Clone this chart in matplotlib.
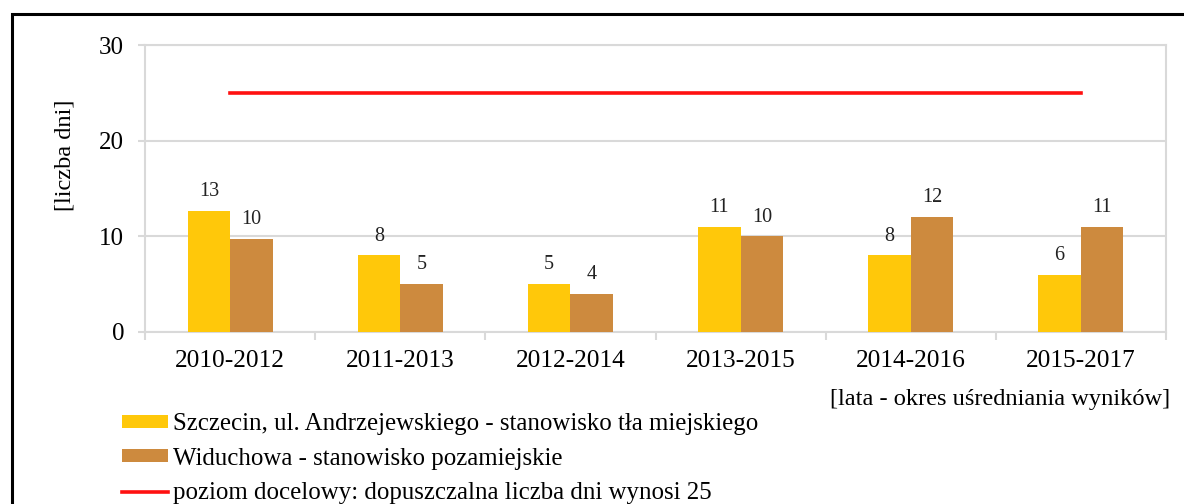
import numpy as np
import matplotlib
matplotlib.use("Agg")
import matplotlib.pyplot as plt
from matplotlib.patches import Patch, Rectangle
from matplotlib.lines import Line2D

plt.rcParams['font.family'] = ['Liberation Serif', 'DejaVu Serif']

# data
periods = ["2010-2012", "2011-2013", "2012-2014", "2013-2015", "2014-2016", "2015-2017"]
szczecin = [12.7, 8, 5, 11, 8, 6]
widuchowa = [9.7, 5, 4, 10, 12, 11]
target_level = 25

series_labels = [
    "Szczecin, ul. Andrzejewskiego - stanowisko tła miejskiego",
    "Widuchowa - stanowisko pozamiejskie",
    "poziom docelowy: dopuszczalna liczba dni wynosi 25",
]

yellow = "#FFC80A"
brown = "#CD8A3E"
grid_gray = "#D9D9D9"

fig = plt.figure(figsize=(11.84, 5.04), dpi=100)
ax = fig.add_axes([145 / 1184, 1 - 332 / 504, (1166 - 145) / 1184, (332 - 45) / 504])

x = np.arange(len(periods))
w = 0.25
bars1 = ax.bar(x - w / 2, szczecin, width=w, color=yellow, zorder=3)
bars2 = ax.bar(x + w / 2, widuchowa, width=w, color=brown, zorder=3)
ax.plot([x[0], x[-1]], [target_level, target_level], color="#FF1010", lw=2.6, zorder=4)

# value labels above bars (rounded like the original)
for bars, vals in [(bars1, szczecin), (bars2, widuchowa)]:
    for b, v in zip(bars, vals):
        ax.annotate(f"{v:.0f}", (b.get_x() + b.get_width() / 2, b.get_height()),
                    xytext=(0, 7), textcoords="offset points",
                    ha="center", va="bottom", fontsize=14.5, color="#222222")

ax.set_xlim(-0.5, len(periods) - 0.5)
ax.set_ylim(0, 30)
ax.set_yticks([0, 10, 20, 30])
ax.yaxis.grid(True, color=grid_gray, lw=1.5, zorder=0)
ax.set_axisbelow(True)

ax.set_xticks(x)
ax.set_xticklabels(periods, fontsize=18.3)
ax.set_xticks(np.arange(-0.5, len(periods)), minor=True)
ax.tick_params(axis="x", which="major", length=0, pad=13)
ax.tick_params(axis="x", which="minor", length=6, width=1.5, color=grid_gray)
ax.tick_params(axis="y", length=5, width=1.5, color=grid_gray, labelsize=18, pad=10)

for s in ax.spines.values():
    s.set_color(grid_gray)
    s.set_linewidth(1.5)

fig.text(65 / 1184, 1 - 155 / 504, "[liczba dni]", rotation=90, fontsize=17.6,
         ha="center", va="center")
fig.text(1170 / 1184, 1 - 400 / 504, "[lata - okres uśredniania wyników]",
         fontsize=17.6, ha="right", va="center")

handles = [
    Patch(facecolor=yellow, edgecolor="none"),
    Patch(facecolor=brown, edgecolor="none"),
    Line2D([0], [0], color="#FF1010", lw=2.6),
]
fig.legend(handles, series_labels, loc="upper left",
           bbox_to_anchor=(122 / 1184, 1 - 413 / 504), frameon=False,
           fontsize=17.9, handlelength=1.84, handleheight=0.42, handletextpad=0.2,
           labelspacing=0.51, borderpad=0, borderaxespad=0)

# black frame around the figure (cut off at right and bottom)
fig.patches.append(Rectangle((12 / 1184, -0.2), 1.2, 1.2 - 14 / 504,
                             transform=fig.transFigure, fill=False,
                             edgecolor="black", lw=2.2, clip_on=False))

fig.savefig("out.png", dpi=100)
